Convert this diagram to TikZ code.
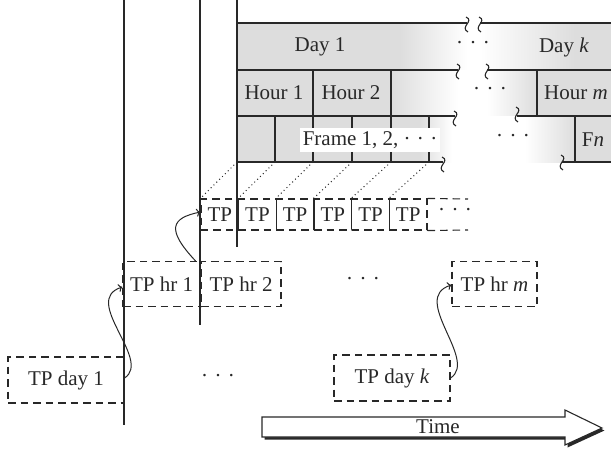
\documentclass[tikz,border=0pt]{standalone}
\usepackage{fontspec}
\setmainfont{Liberation Serif}
\usetikzlibrary{arrows.meta,calc}
\definecolor{ink}{RGB}{40,40,40}
\definecolor{cellgray}{RGB}{221,221,221}
\newcommand{\mydots}{\makebox{·\hspace{0.3em}·\hspace{0.3em}·}}
\begin{document}
\begin{tikzpicture}[x=1pt,y=-1pt,
  every node/.style={font=\fontsize{21}{23}\selectfont, text=ink},
  line/.style={draw=ink, line width=1.1pt},
  dsh/.style={draw=ink, line width=1.1pt, dash pattern=on 7.5pt off 5pt},
  tpbox/.style={dsh, minimum width=37.67pt, minimum height=31pt, inner sep=0pt},
  hrbox/.style={dsh, minimum height=45pt, inner sep=0pt},
  daybox/.style={dsh, minimum width=116pt, minimum height=46pt, inner sep=0pt},
  link/.style={draw=ink, line width=1pt, -{To[length=4pt,width=8pt]}},
  dotline/.style={draw=ink, line width=1pt, dash pattern=on 1pt off 3pt},
  squig/.pic={\draw[ink, line width=1.1pt] (-1,-7) .. controls (8,-3) and (-8,3) .. (1,8);}]

\useasboundingbox (0,0) rectangle (611,452);

% shaded table background, row by row
% day row
\fill[cellgray] (237,23) rectangle (400,70);
\shade[left color=cellgray, right color=white] (400,23) rectangle (467,70);
\shade[left color=white, right color=cellgray] (480,23) rectangle (575,70);
\fill[cellgray] (575,23) rectangle (611,70);
% hour row
\fill[cellgray] (237,70) rectangle (391,116);
\shade[left color=cellgray, right color=white] (391,70) rectangle (458,116);
\shade[left color=white, right color=cellgray] (487,70) rectangle (537,116);
\fill[cellgray] (537,70) rectangle (611,116);
% frame row
\fill[cellgray] (237,116) rectangle (420,162);
\shade[left color=cellgray, right color=white] (420,116) rectangle (452,162);
\shade[left color=white, right color=cellgray] (525,116) rectangle (575,162);
\fill[cellgray] (575,116) rectangle (611,162);

% table lines
\draw[line] (237,23) -- (467,23);  \draw[line] (480,23) -- (611,23);
\draw[line] (237,70) -- (458,70);  \draw[line] (487,70) -- (611,70);
\draw[line] (237,116) -- (455,116); \draw[line] (517,116) -- (611,116);
\draw[line] (237,162) -- (443,162); \draw[line] (562,162) -- (611,162);
\draw[line] (313,70) -- (313,162);
\draw[line] (391,70) -- (391,162);
\draw[line] (537,70) -- (537,116);
\draw[line] (275,116) -- (275,162);
\draw[line] (352,116) -- (352,162);
\draw[line] (429,116) -- (429,162);
\draw[line] (575,116) -- (575,162);

% break marks
\pic at (467,24) {squig}; \pic at (480,24) {squig};
\pic at (458,71) {squig}; \pic at (487,71) {squig};
\pic at (455,118) {squig}; \pic at (517,114) {squig};
\pic at (443,164) {squig}; \pic at (562,162) {squig};

% main vertical lines
\draw[line] (124,0) -- (124,425);
\draw[line] (200,0) -- (200,325);
\draw[line] (237,0) -- (237,247);

% table labels
\node (day1lbl) at (320,47) {Day 1};
\node (daydots) at (473,45) {\mydots};
\node (dayklbl) at (564,47) {Day \textit{k}};
\node (hr1lbl) at (274,93) {Hour 1};
\node (hr2lbl) at (351,93) {Hour 2};
\node (hrdots) at (490,91) {\mydots};
\node (hrmlbl) at (576,93) {Hour \textit{m}};
\node[fill=white, inner xsep=3pt, inner ysep=3pt] (frlbl) at (370,140) {Frame 1, 2, \mydots};
\node (frdots) at (513,138) {\mydots};
\node (fnlbl) at (593,140) {F\textit{n}};

% TP row
\foreach \i in {1,...,6} {
  \node[tpbox] (tp\i) at ({219.83+37.67*(\i-1)},214.5) {TP};
}
\coordinate (tpendt) at (468,199);
\coordinate (tpendb) at (468,230);
\draw[dsh] (tp6.north east) -- (tpendt);
\draw[dsh] (tp6.south east) -- (tpendb);
\node (tpdots) at (455,212) {\mydots};

% dotted projections
\coordinate (f1) at (237,162);
\coordinate (f2) at (275,162);
\coordinate (f3) at (313,162);
\coordinate (f4) at (352,162);
\coordinate (f5) at (391,162);
\coordinate (f6) at (429,162);
\foreach \i in {1,...,6} {
  \draw[dotline] (f\i) -- (tp\i.north west);
}

% TP hr row
\node[hrbox, minimum width=77pt] (hr1) at (161.5,284) {TP hr 1};
\node[hrbox, minimum width=80pt] (hr2) at (241,284) {TP hr 2};
\node (hrrowdots) at (363,281) {\mydots};
\node[hrbox, minimum width=85pt] (hrm) at (494.5,284) {TP hr \textit{m}};

% TP day row
\node[daybox] (day1) at (66,380) {TP day 1};
\node (dayrowdots) at (218,378) {\mydots};
\node[daybox] (dayk) at (392,378) {TP day \textit{k}};

% curved links
\draw[link] ([yshift=2pt]day1.east) .. controls +(28,-18) and +(-42,13) .. ([yshift=-3pt]hr1.west);
\draw[link] ([xshift=-5pt]hr1.north east) .. controls +(-30,-32) and +(-29,6) .. ([yshift=2.5pt]tp1.west);
\draw[link] (dayk.east) .. controls +(28,-18) and +(-42,13) .. ([yshift=-1pt]hrm.west);

% time arrow
\fill[ink] (264.5,419.5) -- (567.5,419.5) -- (567.5,412.5) -- (604.5,430.5) -- (567.5,447.5) -- (567.5,439.5) -- (264.5,439.5) -- cycle;
\draw[line, fill=white] (262,417) -- (565,417) -- (565,410) -- (602,428) -- (565,445) -- (565,437) -- (262,437) -- cycle;
\node (time) at (438,427) {Time};
\end{tikzpicture}
\end{document}
